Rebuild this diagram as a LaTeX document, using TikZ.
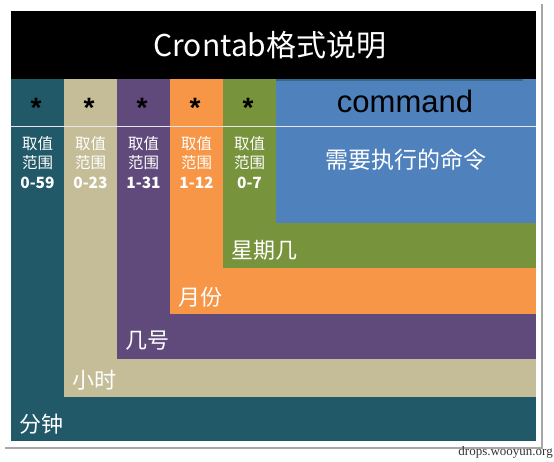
\documentclass[tikz,border=0pt]{standalone}
\usepackage{fontspec}
\usepackage{tikz}
\setmainfont{Noto Sans CJK SC}
\newfontfamily\arialfont{Liberation Sans}
\newfontfamily\wmfont{Liberation Serif}
\definecolor{tea}{RGB}{33,89,104}
\definecolor{bei}{RGB}{196,189,151}
\definecolor{pur}{RGB}{96,74,123}
\definecolor{ora}{RGB}{247,150,70}
\definecolor{gre}{RGB}{119,147,60}
\definecolor{blu}{RGB}{79,129,189}
\tikzset{
  star/.style={font=\arialfont\bfseries\fontsize{28}{28}\selectfont,text=black,anchor=base,inner sep=0pt},
  rng/.style={font=\fontsize{15.5}{19.5}\selectfont,text=white,align=center,anchor=north,inner sep=0pt},
  band/.style={font=\fontsize{22}{22}\selectfont,text=white,anchor=west,inner sep=0pt}
}

\begin{document}
\begin{tikzpicture}[x=1pt,y=-1pt]
\useasboundingbox (0,0) rectangle (554,461);
\coordinate (T1) at (11,11);
\coordinate (T2) at (536,79);
\coordinate (R) at (536,441);

% drop shadow of the sheet
\draw[gray!70,line width=2pt] (5,448) -- (542,448) -- (542,4);

% nested bands
\fill[tea] (11,79) rectangle (R);
\fill[bei] (64,79) rectangle (536,397);
\fill[pur] (117,79) rectangle (536,359);
\fill[ora] (170,79) rectangle (536,314);
\fill[gre] (223,79) rectangle (536,268);
\fill[blu] (276,79) rectangle (536,223);
\fill[black] (T1) rectangle (T2);
\fill[tea!60!blu] (276,79) rectangle (523,81);
\draw[white!85!pur,line width=1pt] (11,126) -- (536,126);

\node[text=white,font=\fontsize{30}{30}\selectfont] (title) at (270,45) {Crontab格式说明};

\node[star] (s1) at (36,117) {*};
\node[star] (s2) at (89,117) {*};
\node[star] (s3) at (142,117) {*};
\node[star] (s4) at (195,117) {*};
\node[star] (s5) at (248,117) {*};
\node[font=\arialfont\fontsize{31}{31}\selectfont,text=black] (cmd) at (405,101) {command};

\node[rng] (r1) at (37.5,136) {取值\\范围\\\textbf{0-59}};
\node[rng] (r2) at (90.5,136) {取值\\范围\\\textbf{0-23}};
\node[rng] (r3) at (143.5,136) {取值\\范围\\\textbf{1-31}};
\node[rng] (r4) at (196.5,136) {取值\\范围\\\textbf{1-12}};
\node[rng] (r5) at (249.5,136) {取值\\范围\\\textbf{0-7}};
\node[text=white,font=\fontsize{23}{23}\selectfont] (todo) at (406,160) {需要执行的命令};

\node[band] (week) at (231,250) {星期几};
\node[band] (mon) at (178,297) {月份};
\node[band] (day) at (125,341) {几号};
\node[band] (hour) at (72,380) {小时};
\node[band] (min) at (19,424) {分钟};

\node[font=\wmfont\fontsize{13}{13}\selectfont,text=black!80,anchor=east,inner sep=0pt] (wm) at (553,452) {drops.wooyun.org};
\end{tikzpicture}
\end{document}
